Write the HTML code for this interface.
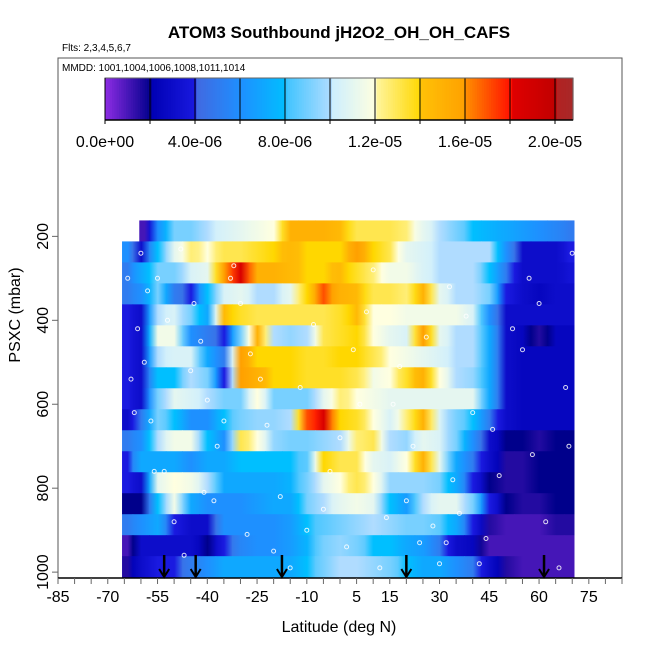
<!DOCTYPE html>
<html><head><meta charset="utf-8"><style>
html,body{margin:0;padding:0;background:#fff;}
svg{display:block;font-family:"Liberation Sans",sans-serif;}
</style></head><body>
<svg id="chart" width="650" height="650" viewBox="0 0 650 650">
<defs id="defs"></defs>
<text x="339" y="38" text-anchor="middle" font-size="17" font-weight="bold">ATOM3 Southbound jH2O2_OH_OH_CAFS</text>
<text x="62" y="51" font-size="10">Flts: 2,3,4,5,6,7</text>
<g id="heat"></g>
<g id="dots"></g>
<g id="arrows"></g>
<rect x="58" y="58" width="564" height="520" fill="none" stroke="#555" stroke-width="1"/>
<text x="62" y="71" font-size="10">MMDD: 1001,1004,1006,1008,1011,1014</text>
<g id="cbar"></g>
<g id="xaxis"></g>
<g id="yaxis"></g>
<text x="339" y="632" text-anchor="middle" font-size="16">Latitude (deg N)</text>
<text transform="translate(20,315) rotate(-90)" text-anchor="middle" font-size="16">PSXC (mbar)</text>
</svg>
<script>
const lats=[-65,-60,-55,-50,-45,-40,-35,-30,-25,-20,-15,-10,-5,0,5,10,15,20,25,30,35,40,45,50,55,60,65,70];
const pressures=[187,237,287,337,387,437,487,537,587,637,687,737,787,837,887,937,987];
const row1=[null,1,6,9,9,10,10.5,11,11.5,12,15,15,15,14.5,13,13,13,12.5,11,10,9,8,7.5,7,6.5,6,5.5,5];
const row2=[6,3,8,11,12.5,12,13,13,13.5,14,14.5,14,14,14,16,14,13,11,10.5,10,10,10,10,6,3,3,3,4];
const row3=[5,7,9,9,10.5,11,16,18.5,15,15,14.5,14,14,14.5,13.5,12.5,11.5,11.5,10.5,10,10,10,8,5,3,3,3,3.5];
const row4=[5,6,9,5,4,8,10.5,11,10,10,11,14,17,15,14.5,13,13,12.5,15,11,10,10,9,4,3,2.5,3,3];
const row5=[4,3,10,10.5,9,7,14.5,13.5,13,13,13,13,13,13.5,14.5,12,12,11.5,11.5,11.5,11.5,10.5,6,3,3,3,3,3];
const row6=[4,3,11.5,11.5,6,5,4,9,15,10,9.5,10,13,13.5,14,12,11,10.5,16,11,10,10,7,3,2.5,1.5,2.5,2.5];
const row7=[4,3,10,10.5,10.5,7,5,16,14,14,14,13.5,13.5,14,14,13,12,11.5,11,10.5,10,10,7,3,2.5,2.5,2.5,2.5];
const row8=[4,3,8,8,10,9,4,16,15,14,14,13.5,13.5,13.5,13,11.5,12,13.5,15,12,10,9.5,7,3,2.5,2.5,2.5,2.5];
const row9=[4,3,9,11,10.5,10,9,9,12,9,9,9,11,12.5,12,11.5,11,11,11,11,11,11,7,3,2.5,2.5,2.5,2.5];
const row10=[3,5,9,8,6,6,8,9,9.5,9.5,10,17,18.5,14,13.5,12,10.5,12.5,15,10.5,9,8,5,3,2.5,2.5,2.5,2.5];
const row11=[5,6,10,11.5,11.5,8,6,13,12,9.5,9,9,9.5,10,12.5,13,10,9.5,11,10.5,9,6,3,2,2,1.5,2,2];
const row12=[4,7,7,7,6,7,7,8,8,8,8,8.5,14,13,13,11,10.5,12,15,11,7,5,3,1.5,1.5,2,2,2];
const row13=[4,3,11,12,11.5,10,7,7,7,7,7.5,9,11,12,13,12,9.5,9.5,9.5,9,7,4,2,1.5,1.5,2,2,2];
const row14=[2,2,8,11.5,7,6,6,6,6.5,7,7,9,10,11,11.5,11,8,6.5,10,11,11,9,4,2,1.5,1.5,2,2];
const row15=[5,6,7,4,3,3,6,6,6,6,6.5,8,8.5,9,9.5,10,9.5,9,9,8.5,7,4,1.5,1,1,1,1.5,1.5];
const row16=[1,3,3,3,3,2,4,5.5,6,6,6.5,7.5,9,9.5,9,8,8,7,6.5,5,3,2.5,1,1,1,1,1,1];
const row17=[1.5,3,4,4,5,6,7,7,7,7,7,8,9,10,10,9.5,9,8,7,7,6,5,3,1.5,1,1,1,1];
const rows=[row1,row2,row3,row4,row5,row6,row7,row8,row9,row10,row11,row12,row13,row14,row15,row16,row17];
const cbTicks=[0,4e-6,8e-6,1.2e-5,1.6e-5,2.0e-5];
const cbTickLabels=["0.0e+00","4.0e-06","8.0e-06","1.2e-05","1.6e-05","2.0e-05"];
const yTicks=[200,400,600,800,1000];
const xTickLabels=[-85,-70,-55,-40,-25,-10,5,15,30,45,60,75];
const arrowLats=[-53,-43.5,-17.5,20,61.5];
const ptLat=[-60,-58,-55,-52,-48,-45,-42,-40,-37,-33,-30,-27,-22,-18,-12,-8,-3,2,6,10,14,18,22,26,30,33,36,40,44,48,55,60,66,70,-62,-56,-50,-38,-28,-15,0,12,24,34,46,52,-63,-47,-35,-20,-5,8,28,42,58,68,-64,-61,-59,-57,-53,-44,-41,-32,-24,-10,4,16,20,32,38,57,62,69];
const ptP=[240,330,300,400,230,520,450,590,700,300,360,480,650,820,560,410,760,940,600,280,870,510,700,440,980,320,860,620,920,770,470,360,990,240,620,760,880,830,910,990,680,990,930,780,660,420,540,960,640,950,850,380,890,980,720,560,300,420,500,640,760,360,810,270,540,900,470,600,830,930,390,300,880,700];
const C={l:58,r:622,t:58,b:578,latMin:-85,latMax:85,pMin:-225,pMax:1014};
function xs(lat){return C.l+(lat-C.latMin)/(C.latMax-C.latMin)*(C.r-C.l);}
function ys(p){return C.t+(p-C.pMin)/(C.pMax-C.pMin)*(C.b-C.t);}
const stops=[[0,'#8a2be2'],[2,'#00008b'],[2.01,'#0000b4'],[4,'#1a1ae0'],[4.01,'#4169e1'],[6,'#1e90ff'],[8,'#00bfff'],[8.01,'#40c4ff'],[10,'#b0dcff'],[10.01,'#cceeff'],[12,'#ffffe0'],[12.01,'#fff59d'],[14,'#ffd700'],[14.01,'#ffc107'],[16,'#ffa000'],[16.01,'#ff8c00'],[18,'#ff1000'],[18.01,'#e00000'],[20,'#c00000'],[20.01,'#b22222'],[21,'#a52a2a']];
function hex(h){return [parseInt(h.substr(1,2),16),parseInt(h.substr(3,2),16),parseInt(h.substr(5,2),16)];}
function col(v){v=Math.max(0,Math.min(21,v));for(let i=1;i<stops.length;i++){if(v<=stops[i][0]){const a=stops[i-1],b=stops[i];const t=(v-a[0])/(b[0]-a[0]||1);const A=hex(a[1]),B=hex(b[1]);return 'rgb('+A.map((c,k)=>Math.round(c+(B[k]-c)*t)).join(',')+')';}}return stops[stops.length-1][1];}
const NS='http://www.w3.org/2000/svg';
function mk(t,a,parent){const e=document.createElementNS(NS,t);for(const k in a)e.setAttribute(k,a[k]);parent.appendChild(e);return e;}
const heat=document.getElementById('heat');
const defs=document.getElementById('defs');
const half=2.5, rowHalf=25;
const leftLat=-65.7, rightLat=70.5;
let gid=0;
rows.forEach((r,ri)=>{
  r.forEach((v,ci)=>{
    if(v===null)return;
    const pv=(ci>0&&r[ci-1]!==null)?r[ci-1]:v;
    const nv=(ci<r.length-1&&r[ci+1]!==null)?r[ci+1]:v;
    const id='g'+(gid++);
    const lg=mk('linearGradient',{id:id,x1:0,y1:0,x2:1,y2:0},defs);
    mk('stop',{offset:0,'stop-color':col((pv+v)/2)},lg);
    mk('stop',{offset:0.5,'stop-color':col(v)},lg);
    mk('stop',{offset:1,'stop-color':col((nv+v)/2)},lg);
    let a=Math.max(lats[ci]-half, ri===0?-60.5:leftLat), b=Math.min(lats[ci]+half, rightLat);
    const x0=xs(a), x1=xs(b);
    const e=mk('rect',{x:x0.toFixed(2),y:ys(pressures[ri]-rowHalf).toFixed(2),width:(x1-x0+0.6).toFixed(2),height:(ys(pressures[ri]+rowHalf)-ys(pressures[ri]-rowHalf)+0.4).toFixed(2),fill:'url(#'+id+')'},heat);
    
    
  });
});
const dots=document.getElementById('dots');
ptLat.forEach((la,i)=>{
  const e=mk('circle',{cx:xs(la).toFixed(1),cy:ys(ptP[i]).toFixed(1),r:2,fill:'none',stroke:'#fff','stroke-width':1,opacity:0.85},dots);
  
  
});
const arr=document.getElementById('arrows');
arrowLats.forEach(la=>{
  const x=xs(la);
  const g=mk('g',{},arr);
  
  
  mk('line',{x1:x,y1:555,x2:x,y2:576,stroke:'#000','stroke-width':2.5},g);
  mk('polyline',{points:(x-5)+',569 '+x+',577 '+(x+5)+',569',fill:'none',stroke:'#000','stroke-width':2},g);
});
const cb=document.getElementById('cbar');
const cbL=105,cbR=573,cbT=78,cbB=120,cbMax=2.08e-5;
function cx(v){return cbL+v/cbMax*(cbR-cbL);}
const N=200;
for(let i=0;i<N;i++){const v=cbMax*i/N;const e=mk('rect',{x:cx(v).toFixed(2),y:cbT,width:((cbR-cbL)/N+0.6).toFixed(2),height:cbB-cbT,fill:col(v*1e6)},cb);

}
for(let v=2e-6;v<cbMax;v+=2e-6){mk('line',{x1:cx(v),y1:cbT,x2:cx(v),y2:cbB+4,stroke:'#000','stroke-width':1},cb);}
mk('rect',{x:cbL,y:cbT,width:cbR-cbL,height:cbB-cbT,fill:'none',stroke:'#666','stroke-width':1},cb);
mk('line',{x1:cbL,y1:cbB,x2:cbR,y2:cbB,stroke:'#000','stroke-width':1.5},cb);
mk('line',{x1:cbL,y1:cbT,x2:cbL,y2:cbB+4,stroke:'#000','stroke-width':1},cb);
cbTicks.forEach((v,i)=>{const t=mk('text',{x:cx(v),y:147,'text-anchor':'middle','font-size':16},cb);t.textContent=cbTickLabels[i];

});
const xa=document.getElementById('xaxis');
mk('line',{x1:C.l,y1:C.b,x2:C.r,y2:C.b,stroke:'#000','stroke-width':1.5},xa);
for(let la=-85;la<=85;la+=5){mk('line',{x1:xs(la),y1:C.b,x2:xs(la),y2:C.b+6,stroke:'#666','stroke-width':1},xa);}
xTickLabels.forEach(la=>{const t=mk('text',{x:xs(la),y:602,'text-anchor':'middle','font-size':16},xa);t.textContent=la;

});
const ya=document.getElementById('yaxis');
yTicks.forEach(p=>{const y=ys(p);mk('line',{x1:C.l-6,y1:y,x2:C.l,y2:y,stroke:'#666','stroke-width':1},ya);
const t=mk('text',{transform:'translate(48,'+y+') rotate(-90)','text-anchor':'middle','font-size':16},ya);t.textContent=p;

});
</script>
</body></html>
